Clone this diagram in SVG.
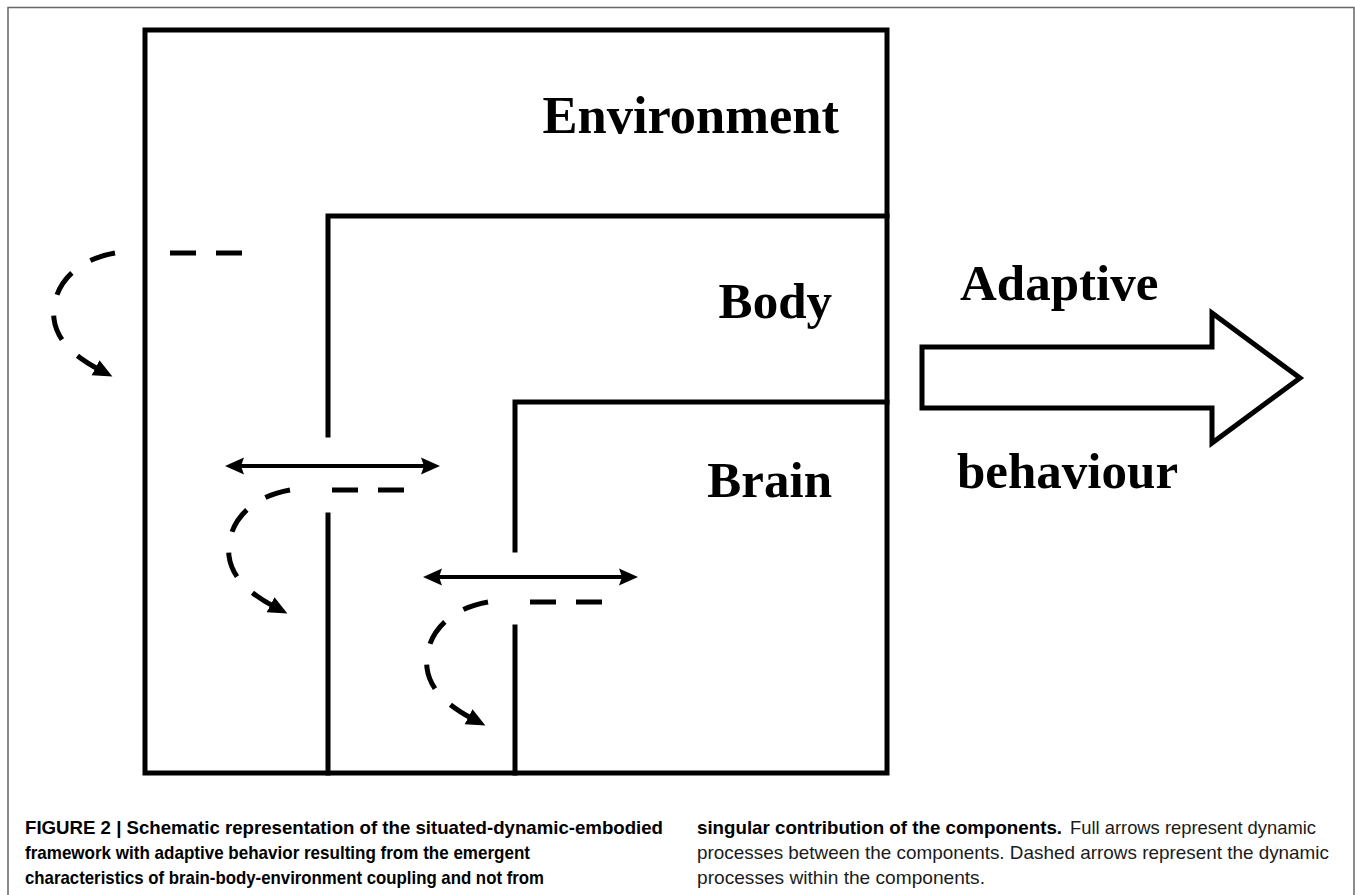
<svg xmlns="http://www.w3.org/2000/svg" width="1355" height="895" viewBox="0 0 1355 895">
  <style>
    .wall { stroke: #000; stroke-width: 5; fill: none; stroke-linecap: square; }
    .dash { stroke: #000; stroke-width: 5; fill: none; }
    .curve { stroke: #000; stroke-width: 5; fill: none; stroke-dasharray: 24 21 25 20 24 21 40; }
    .full { stroke: #000; stroke-width: 4; fill: none; }
    .lbl { font-family: "Liberation Serif", "Times New Roman", serif; font-weight: bold; font-size: 51px; fill: #000; }
    .cap { font-family: "Liberation Sans", Arial, sans-serif; font-size: 18.5px; fill: #1a1a1a; }
    .capb { font-family: "Liberation Sans", Arial, sans-serif; font-size: 18.5px; font-weight: bold; fill: #000; }
  </style>
  <defs>
    <marker id="curveHead" markerUnits="userSpaceOnUse" markerWidth="26" markerHeight="22" viewBox="0 -11 26 22" refX="5" refY="0" orient="auto">
      <path d="M0,-8.5 L19,0 L0,8.5 Z" fill="#000"/>
    </marker>
    <marker id="fullHead" markerUnits="userSpaceOnUse" markerWidth="24" markerHeight="20" viewBox="0 -10 24 20" refX="14" refY="0" orient="auto-start-reverse">
      <path d="M0,-8.5 L19,0 L0,8.5 L3,0 Z" fill="#000"/>
    </marker>
  </defs>
  <rect width="1355" height="895" fill="#fff"/>
  <rect x="8" y="7.5" width="1346" height="900" fill="none" stroke="#666" stroke-width="1.5"/>

  <g id="environment">
    <path class="wall" d="M145,773 V30 H887 V773 H145"/>
    <text class="lbl" x="839" y="133" text-anchor="end" style="font-size:52.5px">Environment</text>
  </g>
  <g id="body">
    <path class="wall" d="M328,435 V216 H887"/>
    <path class="wall" d="M328,515 V773"/>
    <text class="lbl" x="832" y="318" text-anchor="end">Body</text>
  </g>
  <g id="brain">
    <path class="wall" d="M515,550 V402 H887"/>
    <path class="wall" d="M515,627 V773"/>
    <text class="lbl" x="832" y="497" text-anchor="end">Brain</text>
  </g>
  <g id="adaptive-behaviour">
    <polygon points="922,347 1212,347 1212,313 1300,378 1212,443 1212,408 922,408" fill="#fff" stroke="#000" stroke-width="5" stroke-linejoin="miter"/>
    <text class="lbl" x="960" y="300">Adaptive</text>
    <text class="lbl" x="957" y="488">behaviour</text>
  </g>

  <g id="connectors">
    <line class="full" x1="230" y1="466" x2="435" y2="466" marker-start="url(#fullHead)" marker-end="url(#fullHead)"/>
    <line class="full" x1="428" y1="577" x2="633" y2="577" marker-start="url(#fullHead)" marker-end="url(#fullHead)"/>

    <line class="dash" x1="170" y1="253" x2="242" y2="253" stroke-dasharray="26 20"/>
    <path class="curve" pathLength="160" transform="translate(115,253)" d="M0,0 C-45,8 -64,38 -61,66 C-58,90 -36,106 -15,117" marker-end="url(#curveHead)"/>

    <line class="dash" x1="332" y1="490" x2="404" y2="490" stroke-dasharray="26 20"/>
    <path class="curve" pathLength="160" transform="translate(290,490)" d="M0,0 C-45,8 -64,38 -61,66 C-58,90 -36,106 -15,117" marker-end="url(#curveHead)"/>

    <line class="dash" x1="530" y1="602" x2="603" y2="602" stroke-dasharray="26 20"/>
    <path class="curve" pathLength="160" transform="translate(488,602)" d="M0,0 C-45,8 -64,38 -61,66 C-58,90 -36,106 -15,117" marker-end="url(#curveHead)"/>
  </g>

  <g id="caption">
    <text class="capb" x="25" y="834" textLength="638" lengthAdjust="spacingAndGlyphs">FIGURE 2 | Schematic representation of the situated-dynamic-embodied</text>
    <text class="capb" x="25" y="859" textLength="505" lengthAdjust="spacingAndGlyphs">framework with adaptive behavior resulting from the emergent</text>
    <text class="capb" x="25" y="884" textLength="519" lengthAdjust="spacingAndGlyphs">characteristics of brain-body-environment coupling and not from</text>
    <text class="capb" x="697" y="834" textLength="365" lengthAdjust="spacingAndGlyphs">singular contribution of the components.</text>
    <text class="cap" x="1070" y="834" textLength="246" lengthAdjust="spacingAndGlyphs">Full arrows represent dynamic</text>
    <text class="cap" x="697" y="859" textLength="632" lengthAdjust="spacingAndGlyphs">processes between the components. Dashed arrows represent the dynamic</text>
    <text class="cap" x="697" y="884" textLength="288" lengthAdjust="spacingAndGlyphs">processes within the components.</text>
  </g>
</svg>
